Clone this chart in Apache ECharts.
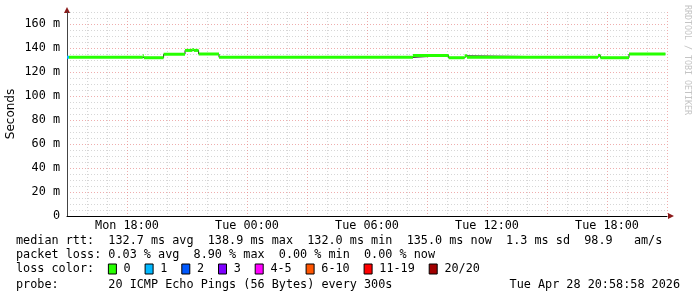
<!DOCTYPE html>
<html>
<head>
<meta charset="utf-8">
<script src="https://cdn.jsdelivr.net/npm/echarts@6/dist/echarts.min.js"></script>
<style>
  html, body { margin: 0; background: #fff; }
  #chart { width: 697px; height: 297px; }
</style>
</head>
<body>
<div id="chart"></div>
<script>
// hours since Mon 00:00; each segment holds its median until the next start
const segStart = [15.0, 15.1, 18.79, 18.84, 19.83, 20.9, 21.27, 21.34, 21.58, 22.6, 32.3, 34.08, 34.88, 35.0, 41.55, 41.67, 43.1];
const segValue = [132.2, 132.2, 133.5, 131.9, 134.8, 138.0, 138.8, 138.0, 135.0, 132.2, 133.8, 131.9, 133.5, 132.2, 133.8, 131.9, 135.0];
const segLoss  = [1, 0, 0, 0, 0, 0, 0, 0, 0, 0, 0, 0, 0, 0, 0, 0, 0];
const dataEnd = 44.92;

const lossLabels = ['0', '1', '2', '3', '4-5', '6-10', '11-19', '20/20'];
const lossColors = ['#26ff00', '#00b8ff', '#0059ff', '#7e00ff', '#ff00ff', '#ff5500', '#ff0000', '#a10000'];

const statLines = [
  'median rtt:  132.7 ms avg  138.9 ms max  132.0 ms min  135.0 ms now  1.3 ms sd  98.9   am/s',
  'packet loss: 0.03 % avg  8.90 % max  0.00 % min  0.00 % now',
  'loss color:',
  'probe:       20 ICMP Echo Pings (56 Bytes) every 300s'
];
const stampText = 'Tue Apr 28 20:58:58 2026';
const days = ['Mon', 'Tue', 'Wed'];

const mono = 'DejaVu Sans Mono';
const fs = 11.8;
const cw = 7.1;
const rowY = [241, 255, 269, 285];

const segData = segStart.map((s, i) => [s, i + 1 < segStart.length ? segStart[i + 1] : dataEnd, segValue[i], segLoss[i]]);
const stepData = segStart.map((s, i) => [s, segValue[i]]);
stepData.push([dataEnd, segValue[segValue.length - 1]]);

const chart = echarts.init(document.getElementById('chart'));

const graphic = [];
statLines.forEach((t, i) => {
  graphic.push({ type: 'text', x: 16, y: rowY[i], style: { text: t, font: fs + 'px "' + mono + '"', fill: '#000', verticalAlign: 'middle' } });
});
graphic.push({ type: 'text', x: 680, y: rowY[3], style: { text: stampText, font: fs + 'px "' + mono + '"', fill: '#000', align: 'right', verticalAlign: 'middle' } });

let bx = 108.4;
lossLabels.forEach((lab, i) => {
  graphic.push({ type: 'rect', shape: { x: bx, y: rowY[2] - 5, width: 8, height: 10 }, style: { fill: lossColors[i], stroke: '#000', lineWidth: 1 } });
  const tx = bx + 15.2;
  graphic.push({ type: 'text', x: tx, y: rowY[2], style: { text: lab, font: fs + 'px "' + mono + '"', fill: '#000', verticalAlign: 'middle' } });
  bx = tx + (lab.length + 2) * cw + 0.2;
});

graphic.push({ type: 'text', x: 687, y: 5, rotation: -Math.PI / 2, style: { text: 'RRDTOOL / TOBI OETIKER', font: '8.3px "' + mono + '"', fill: '#c4c4c4', verticalAlign: 'middle' } });
// axis arrows
graphic.push({ type: 'polygon', shape: { points: [[64, 13], [70, 13], [67, 7]] }, style: { fill: '#8b1a1a' } });
graphic.push({ type: 'polygon', shape: { points: [[668, 213], [668, 219], [674, 216]] }, style: { fill: '#8b1a1a' } });

const majorC = 'rgba(230,130,130,0.65)';
const minorC = 'rgba(200,200,200,0.75)';

chart.setOption({
  animation: false,
  backgroundColor: '#fff',
  grid: { left: 67, top: 12, width: 600, height: 204, containLabel: false, outerBoundsMode: 'none' },
  xAxis: {
    type: 'value', min: 15, max: 45, interval: 1,
    axisLine: { show: true, lineStyle: { color: '#000', width: 1 } },
    axisTick: { show: false },
    axisLabel: {
      margin: 4, fontFamily: mono, fontSize: fs, color: '#000',
      showMinLabel: true, showMaxLabel: true,
      formatter: v => {
        if (v % 6 !== 0) return '';
        const d = Math.floor(v / 24), h = v % 24;
        return days[d] + ' ' + String(h).padStart(2, '0') + ':00';
      }
    },
    splitLine: { show: true, lineStyle: { color: [majorC, minorC, minorC], type: [1, 2], width: 1 } }
  },
  yAxis: {
    type: 'value', min: 0, max: 170, interval: 5,
    name: 'Seconds', nameLocation: 'middle', nameGap: 50, nameMoveOverlap: false,
    nameTextStyle: { fontFamily: 'DejaVu Sans', fontSize: 12, color: '#000' },
    axisLine: { show: true, lineStyle: { color: '#444', width: 1 } },
    axisTick: { show: false },
    axisLabel: {
      margin: 7, fontFamily: mono, fontSize: fs, color: '#000',
      formatter: v => (v % 20 !== 0 ? '' : (v === 0 ? '0' : v + ' m'))
    },
    splitLine: { show: true, lineStyle: { color: [majorC, minorC, minorC, minorC], type: [1, 2], width: 1 } }
  },
  series: [
    {
      type: 'line', step: 'end', data: stepData, symbol: 'none', z: 2,
      lineStyle: { color: '#222', width: 1 }
    },
    {
      type: 'custom', z: 3, data: segData,
      encode: { x: [0, 1], y: 2 },
      renderItem: (params, api) => {
        const a = api.coord([api.value(0), api.value(2)]);
        const b = api.coord([api.value(1), api.value(2)]);
        return {
          type: 'rect',
          shape: { x: a[0], y: a[1] - 1.5, width: b[0] - a[0], height: 3 },
          style: { fill: lossColors[api.value(3)] }
        };
      }
    }
  ],
  graphic: graphic
});
</script>
</body>
</html>
